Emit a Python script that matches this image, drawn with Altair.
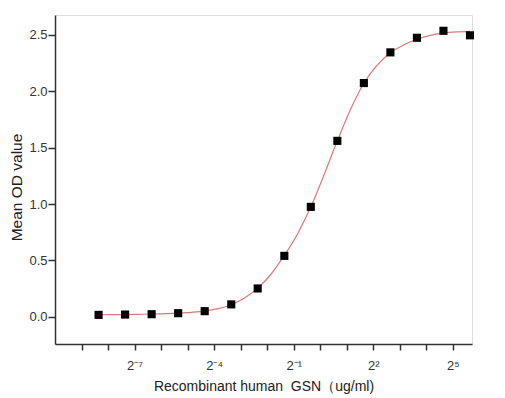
import altair as alt
import pandas as pd

# Dilution series (ug/ml) and mean OD readings
conc = [0.00305, 0.0061, 0.0122, 0.0244, 0.0488, 0.0977, 0.195, 0.391,
        0.781, 1.5625, 3.125, 6.25, 12.5, 25, 50]
od = [0.018, 0.021, 0.024, 0.033, 0.051, 0.111, 0.252, 0.541,
      0.975, 1.560, 2.072, 2.344, 2.473, 2.535, 2.495]

# Fitted curve samples
curve_x = [0.00305, 0.00431, 0.0061, 0.00863, 0.0122, 0.0173, 0.0244, 0.0345,
           0.0488, 0.069, 0.0977, 0.138, 0.195, 0.276, 0.391, 0.552, 0.781,
           1.105, 1.5625, 2.21, 3.125, 4.42, 6.25, 8.84, 12.5, 17.7, 25, 35.4, 50]
curve_y = [0.019, 0.020, 0.021, 0.023, 0.025, 0.029, 0.034, 0.041,
           0.052, 0.073, 0.108, 0.168, 0.255, 0.378, 0.545, 0.735, 0.975,
           1.26, 1.56, 1.84, 2.07, 2.23, 2.34, 2.41, 2.46, 2.495, 2.515, 2.525, 2.53]

x_tick_values = [2.0 ** k for k in range(-9, 6)]
x_labels = {-7: "2⁻⁷", -4: "2⁻⁴", -1: "2⁻¹", 2: "2²", 5: "2⁵"}
y_tick_values = [0, 0.25, 0.5, 0.75, 1.0, 1.25, 1.5, 1.75, 2.0, 2.25, 2.5]

lbl = "''"
for k, s in x_labels.items():
    lbl = f"(round(log(datum.value)/LN2) == {k}) ? '{s}' : ({lbl})"

pts = pd.DataFrame({"conc": conc, "od": od})
crv = pd.DataFrame({"conc": curve_x, "od": curve_y})

FONT = "Liberation Sans"
MAJOR = "abs(datum.value*2 - round(datum.value*2)) < 0.01"

xscale = alt.Scale(type="log", base=2, domain=[2.0 ** -10, 2.0 ** 5.72], nice=False)
yscale = alt.Scale(domain=[-0.24, 2.675], nice=False, zero=False)

xaxis = alt.Axis(
    values=x_tick_values, labelExpr=lbl,
    title="Recombinant human\u00a0 GSN（ug/ml)",
    grid=False, tickSize=6, tickColor="#333", domainColor="#333", domainWidth=1.5,
    tickWidth=1.5, labelFont=FONT, labelFontSize=13, labelColor="#333",
    titleFont=FONT, titleFontSize=14, titleFontWeight="normal", titleColor="#222",
    titlePadding=7, labelPadding=9, labelFlush=False, labelOverlap=False,
)
yaxis = alt.Axis(
    values=y_tick_values,
    labelExpr=f"({MAJOR}) ? format(datum.value, '.1f') : ''",
    title="Mean OD value", grid=False,
    tickSize={"condition": {"test": MAJOR, "value": 7}, "value": 3},
    tickColor="#333", domainColor="#333", domainWidth=1.5, tickWidth=1.5,
    labelFont=FONT, labelFontSize=13, labelColor="#333",
    titleFont=FONT, titleFontSize=15.5, titleFontWeight="normal", titleColor="#222",
    titleX=-34, titleY=172, titleBaseline="alphabetic",
    labelPadding=1, labelOverlap=False,
)

line = alt.Chart(crv).mark_line(color="#e07878", strokeWidth=1.2, interpolate="monotone", clip=True).encode(
    x=alt.X("conc:Q", scale=xscale, axis=xaxis),
    y=alt.Y("od:Q", scale=yscale, axis=yaxis),
)
points = alt.Chart(pts).mark_square(color="black", opacity=1, size=66).encode(
    x=alt.X("conc:Q", scale=xscale),
    y=alt.Y("od:Q", scale=yscale),
)

chart = (line + points).properties(
    width=417, height=329,
    autosize=alt.AutoSizeParams(type="none"),
    padding={"left": 47, "top": 7, "right": 25, "bottom": 50},
).configure_view(stroke=None).configure(background="white")

chart.save("out.html", embed_options={"renderer": "svg", "actions": False})
